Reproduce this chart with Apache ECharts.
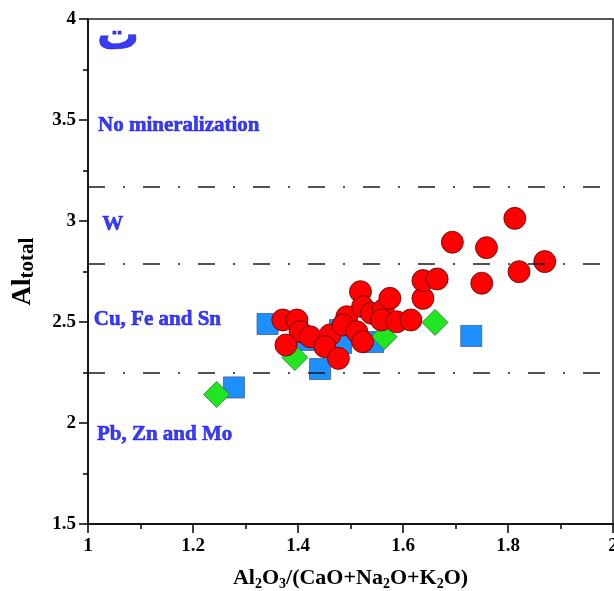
<!DOCTYPE html>
<html>
<head>
<meta charset="utf-8">
<script src="https://cdn.jsdelivr.net/npm/echarts@6/dist/echarts.min.js"></script>
<style>
  html, body { margin: 0; padding: 0; background: #fff; }
  #chart { width: 614px; height: 591px; }
</style>
</head>
<body>
<div id="chart"></div>
<script>
// Samples: [Al2O3/(CaO+Na2O+K2O), Al total]
const redCircles = [
  [1.371, 2.510], [1.398, 2.510], [1.404, 2.452], [1.423, 2.427], [1.377, 2.386],
  [1.461, 2.436], [1.451, 2.378], [1.477, 2.320], [1.493, 2.526], [1.486, 2.485],
  [1.519, 2.650], [1.523, 2.576], [1.540, 2.543], [1.562, 2.559], [1.559, 2.510],
  [1.575, 2.617], [1.512, 2.452], [1.523, 2.402], [1.588, 2.501], [1.615, 2.510],
  [1.638, 2.617], [1.638, 2.705], [1.665, 2.713], [1.813, 3.013], [1.694, 2.895],
  [1.759, 2.868], [1.870, 2.799], [1.821, 2.749], [1.750, 2.692]
];
const blueSquares = [
  [1.342, 2.490], [1.278, 2.176], [1.730, 2.431], [1.442, 2.267],
  [1.410, 2.411], [1.480, 2.460], [1.482, 2.396], [1.543, 2.401]
];
const greenDiamonds = [
  [1.245, 2.141], [1.394, 2.324], [1.564, 2.427], [1.661, 2.498]
];

// Field boundaries (Al total)
const boundaries = [3.17, 2.79, 2.25];

// Field names and their anchor points
const fieldLabels = [
  [1.017, 3.905, 'ت'],
  [1.019, 3.470, 'No mineralization'],
  [1.027, 2.980, 'W'],
  [1.011, 2.510, 'Cu, Fe and Sn'],
  [1.017, 1.941, 'Pb, Zn and Mo']
];

const xTicks = { min: 1, max: 2, step: 0.2 };
const yTicks = { min: 1.5, max: 4, step: 0.5 };

const serif = 'Liberation Serif';
const fmt = v => String(Math.round(v * 10) / 10);
const fieldBlue = '#0a0af0';

const axisCommon = {
  axisLine: { show: true, lineStyle: { color: '#000', width: 1.5 } },
  axisTick: { show: true, inside: false, length: 9, lineStyle: { color: '#000', width: 1.5 } },
  minorTick: { show: true, splitNumber: 2, length: 5, lineStyle: { color: '#000', width: 1.5 } },
  splitLine: { show: false },
  axisLabel: { color: '#000', fontFamily: serif, fontWeight: 'bold', fontSize: 19, formatter: fmt }
};

const chart = echarts.init(document.getElementById('chart'), null, { renderer: 'canvas' });

chart.setOption({
  animation: false,
  backgroundColor: '#fff',
  grid: {
    left: 88, right: 1, top: 19, bottom: 67,
    outerBoundsMode: 'none', containLabel: false,
    show: true, borderColor: '#222', borderWidth: 1.5, backgroundColor: 'transparent'
  },
  xAxis: Object.assign({}, axisCommon, {
    type: 'value', min: xTicks.min, max: xTicks.max, interval: xTicks.step,
    axisLabel: Object.assign({}, axisCommon.axisLabel, { margin: 13 }),
    name: '{m|Al}{s|2}{m|O}{s|3}{m|/(CaO+Na}{s|2}{m|O+K}{s|2}{m|O)}',
    nameLocation: 'middle', nameGap: 41,
    nameTextStyle: {
      rich: {
        m: { fontFamily: serif, fontWeight: 'bold', fontSize: 22, color: '#000', lineHeight: 26 },
        s: { fontFamily: serif, fontWeight: 'bold', fontSize: 14, color: '#000', verticalAlign: 'bottom' }
      }
    }
  }),
  yAxis: Object.assign({}, axisCommon, {
    type: 'value', min: yTicks.min, max: yTicks.max, interval: yTicks.step,
    axisLabel: Object.assign({}, axisCommon.axisLabel, { margin: 12 }),
    name: '{m|Al}{s|total}',
    nameLocation: 'middle', nameGap: 50,
    nameTextStyle: {
      rich: {
        m: { fontFamily: serif, fontWeight: 'bold', fontSize: 27, color: '#000', lineHeight: 30 },
        s: { fontFamily: serif, fontWeight: 'bold', fontSize: 21, color: '#000', verticalAlign: 'bottom' }
      }
    }
  }),
  series: [
    {
      name: 'boundaries', type: 'line', data: [], silent: true,
      markLine: {
        silent: true, symbol: 'none', label: { show: false },
        lineStyle: { color: '#1a1a1a', width: 1.6, type: [17, 18, 2, 18] },
        data: boundaries.map(v => ({ yAxis: v }))
      }
    },
    {
      name: 'squares', type: 'scatter', symbol: 'rect', symbolSize: 21, data: blueSquares,
      itemStyle: { color: '#1e8fff', borderColor: '#3a5f8a', borderWidth: 0.8, opacity: 1 }
    },
    {
      name: 'diamonds', type: 'scatter', symbol: 'diamond', symbolSize: 26, data: greenDiamonds,
      itemStyle: { color: '#22e622', borderColor: '#2f6f2f', borderWidth: 0.8, opacity: 1 }
    },
    {
      name: 'circles', type: 'scatter', symbol: 'circle', symbolSize: 22, data: redCircles,
      itemStyle: { color: '#ff0000', borderColor: '#5a0000', borderWidth: 0.8, opacity: 1 }
    },
    {
      name: 'fields', type: 'scatter', symbolSize: 0, silent: true,
      data: fieldLabels.map((d, i) => i === 0
        ? { value: [d[0], d[1]], name: d[2], label: { fontFamily: 'DejaVu Sans', fontSize: 42 } }
        : { value: [d[0], d[1]], name: d[2] }),
      label: {
        show: true, position: 'right', distance: 0, formatter: p => p.name,
        color: fieldBlue, fontFamily: serif, fontWeight: 'bold', fontSize: 21,
        textBorderColor: fieldBlue, textBorderWidth: 0.6
      },
      labelLayout: { hideOverlap: false }
    }
  ]
});
</script>
</body>
</html>
